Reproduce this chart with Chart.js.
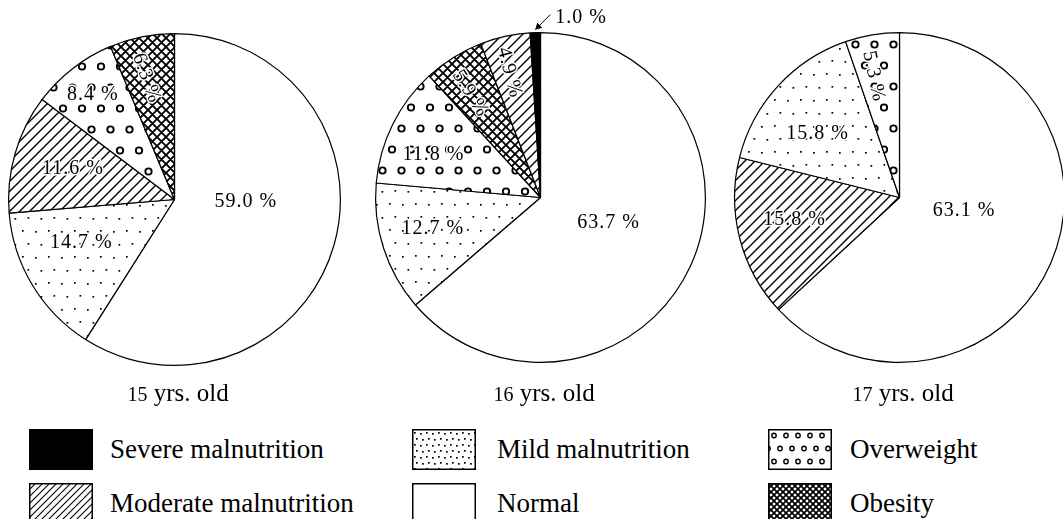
<!DOCTYPE html>
<html>
<head>
<meta charset="utf-8">
<script src="https://cdn.jsdelivr.net/npm/chart.js@4"></script>
<style>
    body { margin: 0; width: 1063px; height: 519px; overflow: hidden; background: #fff; position: relative; font-family: "Liberation Serif", serif; color: #000; }
    .pie { position: absolute; }
    .title { position: absolute; top: 380px; width: 220px; text-align: center; font-size: 25px; line-height: 25px; }
    .title .age { font-size: 20px; }
    .swatch { position: absolute; }
    .key { position: absolute; font-size: 27px; line-height: 41px; white-space: nowrap; }
</style>
</head>
<body>
<canvas id="pie15" class="pie"></canvas>
<canvas id="pie16" class="pie"></canvas>
<canvas id="pie17" class="pie"></canvas>
<script>
const ages = ["15", "16", "17"];
const legendLabels = ["Severe malnutrition", "Moderate malnutrition", "Mild malnutrition", "Normal", "Overweight", "Obesity"];

const labels15 = ["Normal", "Mild malnutrition", "Moderate malnutrition", "Overweight", "Obesity"];
const values15 = [59.0, 14.7, 11.6, 8.4, 6.3];

const labels16 = ["Normal", "Mild malnutrition", "Overweight", "Obesity", "Moderate malnutrition", "Severe malnutrition"];
const values16 = [63.7, 12.7, 11.8, 5.9, 4.9, 1.0];

const labels17 = ["Normal", "Moderate malnutrition", "Mild malnutrition", "Overweight"];
const values17 = [63.1, 15.8, 15.8, 5.3];

// where each slice's label sits: [angle from 12 o'clock, fraction of radius, text rotation]
const place15 = [[92, 0.43, 0], [245, 0.62, 0], [287, 0.64, 0], [322, 0.80, 0], [347, 0.75, 70]];
const place16 = [[110, 0.44, 0], [254, 0.68, 0], [292, 0.70, 0], [326, 0.76, 58], [346, 0.78, 75], "arrow"];
const place17 = [[102, 0.40, 0], [258, 0.65, 0], [308, 0.63, 0], [348, 0.75, 78]];

// pie centre and radius on the page
const pieBoxes = [
    { id: "pie15", cx: 174, cy: 199, r: 166 },
    { id: "pie16", cx: 540, cy: 197, r: 165 },
    { id: "pie17", cx: 899, cy: 197, r: 165 }
];
const PAD = 40;

function makePattern(kind, size, lw) {
    const c = document.createElement("canvas");
    const g = c.getContext("2d");
    if (kind === "solid") {
        c.width = c.height = 4;
        g.fillStyle = "#000";
        g.fillRect(0, 0, 4, 4);
    } else if (kind === "white") {
        c.width = c.height = 4;
        g.fillStyle = "#fff";
        g.fillRect(0, 0, 4, 4);
    } else if (kind === "dots") {
        c.width = c.height = size;
        g.fillStyle = "#fff";
        g.fillRect(0, 0, size, size);
        g.fillStyle = "#000";
        const h = size / 2;
        [[2, 3], [h + 2, 4], [h * 0.5 + 1, h + 3], [h * 1.5 + 1, h + 4]].forEach(function (p) {
            g.fillRect(p[0], p[1], 1.7, 1.7);
        });
    } else if (kind === "hatch") {
        c.width = c.height = size;
        g.fillStyle = "#fff";
        g.fillRect(0, 0, size, size);
        g.strokeStyle = "#000";
        g.lineWidth = lw;
        g.beginPath();
        g.moveTo(0, size); g.lineTo(size, 0);
        g.moveTo(-2, 2); g.lineTo(2, -2);
        g.moveTo(size - 2, size + 2); g.lineTo(size + 2, size - 2);
        g.stroke();
    } else if (kind === "cross") {
        c.width = c.height = size;
        g.fillStyle = "#fff";
        g.fillRect(0, 0, size, size);
        g.strokeStyle = "#000";
        g.lineWidth = lw;
        g.beginPath();
        g.moveTo(0, size); g.lineTo(size, 0);
        g.moveTo(-2, 2); g.lineTo(2, -2);
        g.moveTo(size - 2, size + 2); g.lineTo(size + 2, size - 2);
        g.moveTo(0, 0); g.lineTo(size, size);
        g.moveTo(-2, size - 2); g.lineTo(2, size + 2);
        g.moveTo(size - 2, -2); g.lineTo(size + 2, 2);
        g.stroke();
    } else if (kind === "circles") {
        const w = size, hgt = Math.round(size * 1.1);
        c.width = w; c.height = hgt;
        g.fillStyle = "#fff";
        g.fillRect(0, 0, w, hgt);
        g.strokeStyle = "#000";
        g.lineWidth = lw;
        const rad = Math.max(2.2, size / 12);
        [[w / 4, hgt / 4], [w * 3 / 4, hgt / 4], [0, hgt * 3 / 4], [w / 2, hgt * 3 / 4], [w, hgt * 3 / 4]].forEach(function (p) {
            g.beginPath();
            g.arc(p[0], p[1], rad, 0, Math.PI * 2);
            g.stroke();
        });
    }
    return g.createPattern(c, "repeat");
}

const pieFill = {
    "Severe malnutrition": makePattern("solid"),
    "Moderate malnutrition": makePattern("hatch", 10, 1.4),
    "Mild malnutrition": makePattern("dots", 26),
    "Normal": makePattern("white"),
    "Overweight": makePattern("circles", 38, 1.9),
    "Obesity": makePattern("cross", 9, 1.9)
};

const keyFill = {
    "Severe malnutrition": ["solid"],
    "Moderate malnutrition": ["hatch", 7, 1.1],
    "Mild malnutrition": ["dots", 12],
    "Normal": ["white"],
    "Overweight": ["circles", 24, 1.4],
    "Obesity": ["cross", 6, 1.7]
};

const sliceLabels = {
    id: "sliceLabels",
    afterDatasetsDraw(chart, args, opts) {
        const ctx = chart.ctx;
        const meta = chart.getDatasetMeta(0);
        const vals = chart.data.datasets[0].data;
        ctx.save();
        ctx.font = '20px "Liberation Serif"';
        ctx.letterSpacing = "1px";
        ctx.fillStyle = "#000";
        ctx.strokeStyle = "#000";
        ctx.lineJoin = "round";
        meta.data.forEach(function (arc, i) {
            const p = opts.place[i];
            const text = vals[i].toFixed(1) + " %";
            const R = arc.outerRadius;
            if (p === "arrow") {
                const mid = (arc.startAngle + arc.endAngle) / 2;
                const tx = arc.x + Math.cos(mid) * (R + 3);
                const ty = arc.y + Math.sin(mid) * (R + 3);
                const ex = tx + 15, ey = ty - 15;
                ctx.lineWidth = 1;
                ctx.beginPath();
                ctx.moveTo(ex, ey);
                ctx.lineTo(tx, ty);
                ctx.stroke();
                ctx.beginPath();
                ctx.moveTo(tx, ty);
                ctx.lineTo(tx + 7, ty - 2);
                ctx.lineTo(tx + 2, ty - 7);
                ctx.closePath();
                ctx.fill();
                ctx.textAlign = "left";
                ctx.textBaseline = "middle";
                ctx.fillText(text, ex + 5, ey + 3);
                return;
            }
            const a = p[0] * Math.PI / 180;
            const x = arc.x + Math.sin(a) * R * p[1];
            const y = arc.y - Math.cos(a) * R * p[1];
            ctx.save();
            ctx.translate(x, y);
            ctx.rotate(p[2] * Math.PI / 180);
            ctx.textAlign = "center";
            ctx.textBaseline = "middle";
            // thin white halo so the figures stay readable on the hatching
            ctx.strokeStyle = "#fff";
            ctx.lineWidth = 3;
            ctx.strokeText(text, 0, 0);
            ctx.fillText(text, 0, 0);
            ctx.restore();
        });
        ctx.restore();
    }
};

function CreatePie(box, labelsArr, dataArr, placeArr) {
    const size = box.r * 2 + 1 + PAD * 2;
    const canvas = document.getElementById(box.id);
    canvas.width = size;
    canvas.height = size;
    canvas.style.left = (box.cx - box.r - PAD) + "px";
    canvas.style.top = (box.cy - box.r - PAD) + "px";

    new Chart(canvas, {
        type: "pie",
        data: {
            labels: labelsArr,
            datasets: [{
                data: dataArr,
                backgroundColor: labelsArr.map(function (l) { return pieFill[l]; }),
                borderColor: "#000",
                borderWidth: 1.2
            }]
        },
        options: {
            responsive: false,
            animation: false,
            events: [],
            layout: { padding: PAD },
            plugins: {
                legend: { display: false },
                tooltip: { enabled: false },
                sliceLabels: { place: placeArr }
            }
        },
        plugins: [sliceLabels]
    });
}

CreatePie(pieBoxes[0], labels15, values15, place15);
CreatePie(pieBoxes[1], labels16, values16, place16);
CreatePie(pieBoxes[2], labels17, values17, place17);

// age captions under each pie
pieBoxes.forEach(function (box, i) {
    const t = document.createElement("div");
    t.className = "title";
    t.style.left = (box.cx - 110 + 4) + "px";
    t.innerHTML = '<span class="age">' + ages[i] + '</span> yrs. old';
    document.body.appendChild(t);
});

// legend: three columns, two rows
const keyCols = [{ box: 29, text: 110 }, { box: 412, text: 497 }, { box: 768, text: 850 }];
const keyRows = [429, 483];
const keyOrder = [[0, 0], [0, 1], [1, 0], [1, 1], [2, 0], [2, 1]];
legendLabels.forEach(function (label, i) {
    const col = keyCols[keyOrder[i][0]];
    const top = keyRows[keyOrder[i][1]];
    const sw = document.createElement("canvas");
    sw.className = "swatch";
    sw.width = 64;
    sw.height = 41;
    sw.style.left = col.box + "px";
    sw.style.top = top + "px";
    const g = sw.getContext("2d");
    const f = keyFill[label];
    g.fillStyle = makePattern(f[0], f[1], f[2]);
    g.fillRect(0, 0, 64, 41);
    g.strokeStyle = "#000";
    g.lineWidth = 1.5;
    g.strokeRect(0.75, 0.75, 62.5, 39.5);
    document.body.appendChild(sw);

    const k = document.createElement("div");
    k.className = "key";
    k.style.left = col.text + "px";
    k.style.top = top + "px";
    k.textContent = label;
    document.body.appendChild(k);
});
</script>
</body>
</html>
